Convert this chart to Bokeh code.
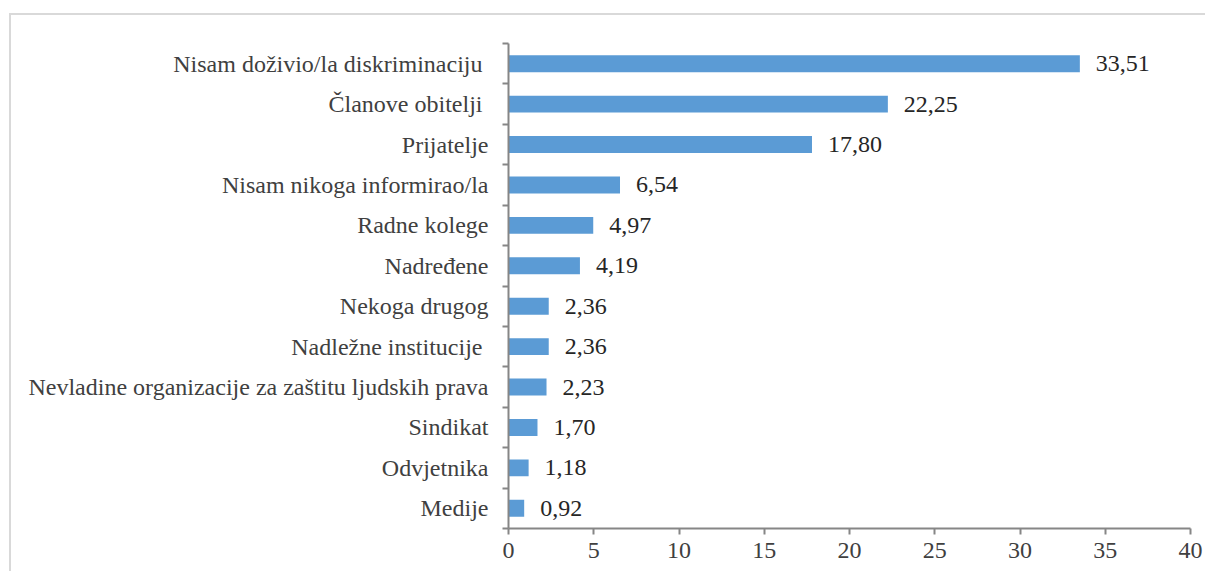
from bokeh.plotting import figure
from bokeh.models import Range1d, FixedTicker, ColumnDataSource, InlineStyleSheet
from bokeh.embed import file_html
from bokeh.resources import INLINE
from bokeh.core.properties import value

categories = [
    "Nisam doživio/la diskriminaciju ",
    "Članove obitelji ",
    "Prijatelje",
    "Nisam nikoga informirao/la",
    "Radne kolege",
    "Nadređene",
    "Nekoga drugog",
    "Nadležne institucije ",
    "Nevladine organizacije za zaštitu ljudskih prava",
    "Sindikat",
    "Odvjetnika",
    "Medije",
]
values = [33.51, 22.25, 17.80, 6.54, 4.97, 4.19, 2.36, 2.36, 2.23, 1.70, 1.18, 0.92]
x_ticks = [0, 5, 10, 15, 20, 25, 30, 35, 40]

n = len(categories)
ypos = [n - 1 - i for i in range(n)]
labels = [f"{v:.2f}".replace(".", ",") for v in values]

src = ColumnDataSource(dict(y=ypos, v=values, lab=labels))

FONT = "Liberation Serif"
AXIS_COL = "#868686"
TEXT_COL = "#404040"
FS = "24px"

p = figure(width=1205, height=571, output_backend="svg", toolbar_location=None,
           x_range=Range1d(0, 40), y_range=Range1d(-0.5, n - 0.5),
           min_border_left=508, min_border_right=15, min_border_top=43, min_border_bottom=43)

p.stylesheets = [InlineStyleSheet(css=(
    ":host::after { content: ''; position: absolute; left: 9px; top: 13px; "
    "right: 0px; bottom: 0px; border-left: 2px solid #d9d9d9; "
    "border-top: 2px solid #d9d9d9; pointer-events: none; }"
))]

p.hbar(y="y", right="v", left=0, height=0.42, source=src, color="#5b9bd5", line_color=None)
p.text(x="v", y="y", text="lab", source=src, x_offset=16, text_baseline="middle",
       text_align="left", text_font=value(FONT), text_font_size=FS, text_color="#262626")

p.grid.visible = False
p.outline_line_color = None

xa = p.xaxis[0]
xa.ticker = FixedTicker(ticks=x_ticks)
xa.axis_line_color = AXIS_COL
xa.axis_line_width = 2
xa.major_tick_line_color = AXIS_COL
xa.major_tick_line_width = 2
xa.major_tick_in = 0
xa.major_tick_out = 6
xa.minor_tick_line_color = None
xa.major_label_text_font = FONT
xa.major_label_text_font_size = FS
xa.major_label_text_color = TEXT_COL
xa.major_label_standoff = 8

ya = p.yaxis[0]
ya.ticker = FixedTicker(ticks=ypos, minor_ticks=[k - 0.5 for k in range(n + 1)])
ya.major_label_overrides = {yy: c for yy, c in zip(ypos, categories)}
ya.axis_line_color = AXIS_COL
ya.axis_line_width = 2
ya.major_tick_line_color = None
ya.major_tick_in = 0
ya.major_tick_out = 0
ya.minor_tick_line_color = AXIS_COL
ya.minor_tick_line_width = 2
ya.minor_tick_in = 0
ya.minor_tick_out = 6
ya.major_label_text_font = FONT
ya.major_label_text_font_size = FS
ya.major_label_text_color = TEXT_COL
ya.major_label_standoff = 14

open("out.html", "w").write(file_html(p, INLINE))
